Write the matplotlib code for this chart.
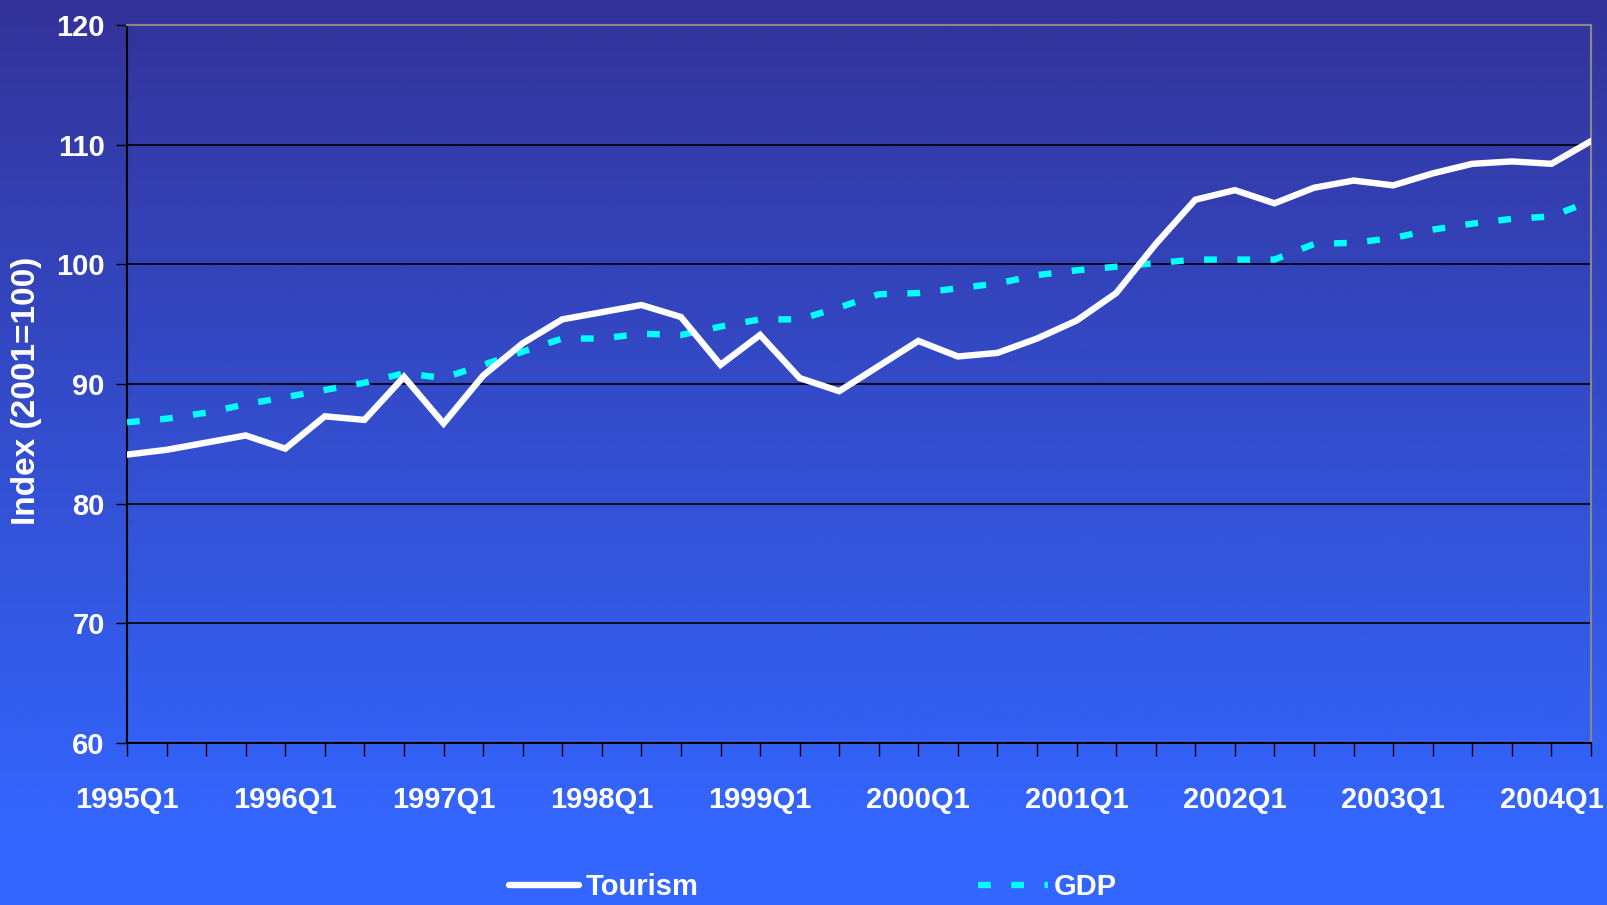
import numpy as np
import matplotlib
matplotlib.use("Agg")
import matplotlib.pyplot as plt
from matplotlib.colors import LinearSegmentedColormap
from matplotlib.ticker import MultipleLocator

# Quarterly series, 1995Q1 .. 2004Q2
years = list(range(1995, 2005))
quarters = [f"{y}Q{q}" for y in years for q in range(1, 5)][:38]

tourism = [84.1, 84.5, 85.1, 85.7, 84.6, 87.3, 87.0, 90.6, 86.7, 90.7,
           93.4, 95.4, 96.0, 96.6, 95.6, 91.6, 94.1, 90.5, 89.4, 91.5,
           93.6, 92.3, 92.6, 93.8, 95.3, 97.6, 101.7, 105.4, 106.2, 105.1,
           106.4, 107.0, 106.6, 107.6, 108.4, 108.6, 108.4, 110.3]

gdp = [86.8, 87.1, 87.6, 88.3, 88.9, 89.5, 90.1, 90.9, 90.5, 91.6,
       92.7, 93.8, 93.8, 94.2, 94.1, 94.8, 95.4, 95.4, 96.4, 97.5,
       97.6, 98.0, 98.4, 99.1, 99.5, 99.8, 100.1, 100.4, 100.4, 100.4,
       101.7, 101.8, 102.2, 102.9, 103.4, 103.8, 104.0, 105.3]

plt.rcParams["font.family"] = ["Liberation Sans", "DejaVu Sans"]

W, H = 1607, 905
fig = plt.figure(figsize=(W / 100, H / 100), dpi=100)

# background gradient for the whole slide
bg = fig.add_axes([0, 0, 1, 1], zorder=-10)
cmap = LinearSegmentedColormap.from_list("bg", ["#333399", "#3366FF"])
grad = np.clip(np.linspace(0, 1.08, 400), 0, 1).reshape(-1, 1)
bg.imshow(grad, aspect="auto", cmap=cmap, extent=[0, 1, 1, 0], vmin=0, vmax=1)
bg.set_axis_off()

ax = fig.add_axes([127 / W, 1 - 743 / H, (1591 - 127) / W, (743 - 25) / H])
ax.patch.set_alpha(0)

x = np.arange(len(quarters))
ax.plot(x, tourism, color="white", lw=4.6, solid_capstyle="round",
        solid_joinstyle="miter", label="Tourism", zorder=4)
ax.plot(x, gdp, color="#00FFFF", lw=4.6, dashes=(2.0, 3.2),
        dash_capstyle="butt", label="GDP", zorder=3)

ax.set_xlim(0, len(quarters) - 1)
ax.set_ylim(60, 120)
ax.yaxis.set_major_locator(MultipleLocator(10))
ax.grid(axis="y", color="black", lw=1.2)
ax.set_axisbelow(True)

ax.set_xticks(x, minor=True)
ax.set_xticks(x[::4])
ax.set_xticklabels(quarters[::4])
ax.tick_params(axis="x", which="both", direction="out", length=9, width=1,
               color="black", pad=22)
ax.tick_params(axis="y", direction="out", length=8, width=1, color="black", pad=8)
for lab in ax.get_xticklabels() + ax.get_yticklabels():
    lab.set_color("white")
    lab.set_fontweight("bold")
    lab.set_fontsize(21)

ax.spines["left"].set_color("black")
ax.spines["bottom"].set_color("black")
ax.spines["top"].set_color("#888888")
ax.spines["right"].set_color("#888888")
for s in ax.spines.values():
    s.set_linewidth(1.5)

ax.set_ylabel("Index (2001=100)", color="white", fontweight="bold", fontsize=24)
ax.yaxis.set_label_coords(-0.058, 0.49)

leg = fig.legend(loc="center", bbox_to_anchor=(0.506, 0.02), ncol=2,
                 frameon=False, fontsize=21, handlelength=2.4,
                 handletextpad=0.2, columnspacing=9.6)
for t in leg.get_texts():
    t.set_color("white")
    t.set_fontweight("bold")

fig.savefig("out.png", dpi=100)
